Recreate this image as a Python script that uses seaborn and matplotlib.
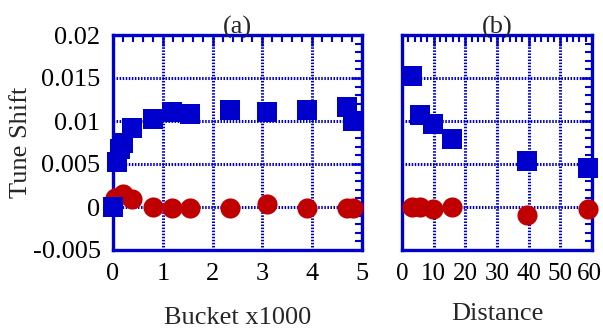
import numpy as np
import pandas as pd
import matplotlib
matplotlib.use('Agg')
import matplotlib.pyplot as plt
import matplotlib.transforms as mtransforms
import seaborn as sns
from matplotlib.ticker import MultipleLocator

# panel (a): bucket (x1000)
bucket_sq = [0.0, 0.08, 0.2, 0.15, 0.38, 0.8, 1.18, 1.55, 2.35, 3.1, 3.9, 4.7, 4.82]
shift_sq_a = [0.0, 0.0052, 0.0075, 0.0068, 0.0092, 0.0102, 0.0110, 0.0108, 0.0113, 0.0111, 0.0113, 0.0116, 0.0100]
bucket_ci = [0.04, 0.2, 0.38, 0.8, 1.18, 1.55, 2.35, 3.1, 3.9, 4.7, 4.82]
shift_ci_a = [0.0011, 0.0015, 0.0009, 0.0, -0.0001, -0.0001, -0.0001, 0.0004, -0.0001, -0.0001, -0.0001]

# panel (b): distance
dist = [3.2, 5.7, 9.8, 15.8, 39.4, 58.7]
shift_sq_b = [0.0152, 0.0107, 0.0096, 0.0079, 0.0053, 0.0045]
shift_ci_b = [0.0, 0.0, -0.0002, 0.0, -0.0009, -0.0002]

blue = '#0000cc'
red = '#c00000'
fs = 19

sns.set_style('white')
plt.rcParams['font.family'] = ['Liberation Serif', 'DejaVu Serif']

fig = plt.figure(figsize=(6.03, 3.30), dpi=100)
ax1 = fig.add_axes([113/603, 1-250/330, 249/603, 215/330])
ax2 = fig.add_axes([402/603, 1-250/330, 190/603, 215/330])

da_sq = pd.DataFrame({'x': bucket_sq, 'y': shift_sq_a})
da_ci = pd.DataFrame({'x': bucket_ci, 'y': shift_ci_a})
db_sq = pd.DataFrame({'x': dist, 'y': shift_sq_b})
db_ci = pd.DataFrame({'x': dist, 'y': shift_ci_b})

for ax, sq, ci in [(ax1, da_sq, da_ci), (ax2, db_sq, db_ci)]:
    sns.scatterplot(data=ci, x='x', y='y', ax=ax, marker='o', color=red,
                    s=210, linewidth=0, clip_on=False, zorder=3)
    sns.scatterplot(data=sq, x='x', y='y', ax=ax, marker='s', color=blue,
                    s=200, linewidth=0, clip_on=False, zorder=4)

ax1.set_xlim(0, 5)
ax2.set_xlim(0, 60)
for ax in (ax1, ax2):
    ax.set_ylim(-0.005, 0.02)
    ax.yaxis.set_major_locator(MultipleLocator(0.005))
    ax.yaxis.set_minor_locator(MultipleLocator(0.001))
    for sp in ax.spines.values():
        sp.set_visible(True)
        sp.set_color(blue)
        sp.set_linewidth(2.4)
    ax.tick_params(which='both', direction='in', top=True, right=True,
                   color=blue, labelsize=fs, labelcolor='black')
    ax.tick_params(which='major', length=8, width=1.8, pad=9)
    ax.tick_params(which='minor', length=5, width=1.5)
    ax.grid(True, which='major', color=blue, linestyle=(0, (0.5, 0.5)), linewidth=2.2)
    ax.set_axisbelow(True)

ax1.xaxis.set_major_locator(MultipleLocator(1))
ax1.xaxis.set_minor_locator(MultipleLocator(0.2))
ax2.xaxis.set_major_locator(MultipleLocator(10))
ax2.xaxis.set_minor_locator(MultipleLocator(2))

ax1.set_yticks([-0.005, 0, 0.005, 0.01, 0.015, 0.02])
ax1.set_yticklabels(['-0.005', '0', '0.005', '0.01', '0.015', '0.02'])
ax2.tick_params(labelleft=False)
ax2.tick_params(axis='x', labelsize=18)
ax2.set_xticks([0, 10, 20, 30, 40, 50, 60])
ax2.set_xticklabels(['0', '10', '20', '30', '40', '50', '60'])
last = ax2.get_xticklabels()[-1]
last.set_transform(last.get_transform() + mtransforms.ScaledTranslation(-0.03, 0, fig.dpi_scale_trans))

ax1.set_xlabel('Bucket x1000', fontsize=fs, labelpad=16)
ax2.set_xlabel('Distance', fontsize=fs, labelpad=13)
ax1.set_ylabel('Tune Shift', fontsize=fs, labelpad=0)
ax2.set_ylabel('')
ax1.set_title('(a)', fontsize=fs, pad=1)
ax2.set_title('(b)', fontsize=fs, pad=1)

fig.savefig('out.png', dpi=100)
